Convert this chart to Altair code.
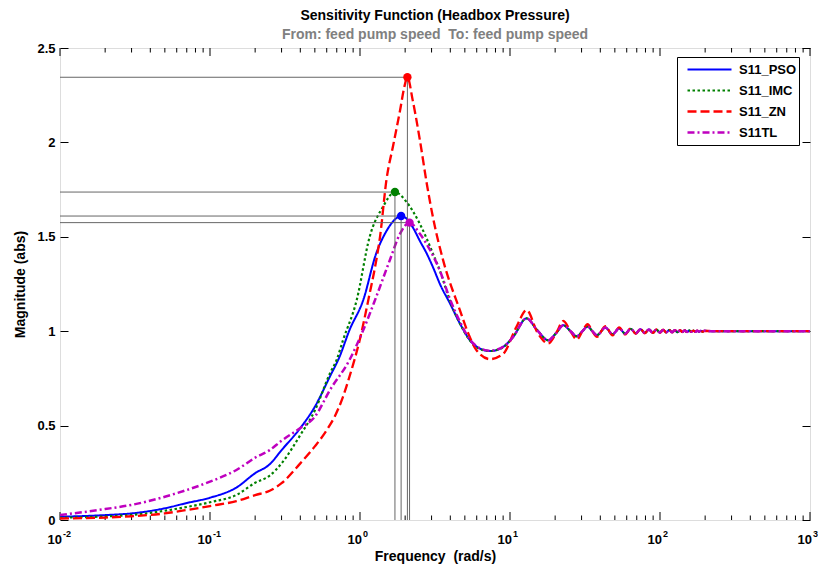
import altair as alt
import pandas as pd

FONT = "Liberation Sans"
W, H = 750, 472
NB = "\u00a0"

SERIES = ["S11_PSO", "S11_IMC", "S11_ZN", "S11TL"]
COLORS = ["#0000FF", "#008000", "#FF0000", "#BF00BF"]
DASHES = [[1, 0], [2.5, 2.5], [9, 4], [7, 3, 2, 3]]
WIDTHS = [2.0, 2.5, 2.5, 2.5]

# ---- low / peak region of each curve ----
pso_freq = [0.01, 0.02, 0.03, 0.05, 0.07, 0.1, 0.15, 0.2, 0.25, 0.3, 0.4, 0.5, 0.63, 0.73, 0.85,
            1.05, 1.28, 1.51, 1.7, 1.88, 2.05, 2.25, 2.5, 2.79, 3.1, 3.41, 3.98, 4.64, 5.41, 6.31, 7.36, 9.0]
pso_mag = [0.017, 0.026, 0.035, 0.062, 0.09, 0.118, 0.172, 0.248, 0.295, 0.37, 0.487, 0.6, 0.76, 0.864, 1.005,
           1.164, 1.41, 1.534, 1.59, 1.61, 1.595, 1.55, 1.48, 1.41, 1.33, 1.25, 1.147, 1.04, 0.952, 0.908, 0.895, 0.917]

imc_freq = [0.01, 0.02, 0.03, 0.05, 0.07, 0.1, 0.15, 0.2, 0.25, 0.3, 0.4, 0.5, 0.63, 0.7, 0.77, 0.95,
            1.16, 1.42, 1.71, 2.04, 2.5, 3.07, 3.41, 3.98, 4.64, 5.41, 6.31, 7.36, 9.0]
imc_mag = [0.012, 0.019, 0.027, 0.049, 0.069, 0.094, 0.133, 0.197, 0.235, 0.3, 0.45, 0.58, 0.776, 0.85, 0.952, 1.164,
           1.5, 1.658, 1.737, 1.685, 1.57, 1.41, 1.32, 1.16, 1.04, 0.95, 0.905, 0.895, 0.915]

zn_freq = [0.01, 0.02, 0.03, 0.05, 0.07, 0.1, 0.15, 0.2, 0.25, 0.3, 0.4, 0.5, 0.6, 0.68, 0.77, 0.84, 1.0,
           1.16, 1.26, 1.36, 1.5, 1.67, 1.85, 1.97, 2.07, 2.25, 2.51, 2.79, 3.07, 3.6, 4.64, 5.27, 5.97, 7.36, 9.0]
zn_mag = [0.008, 0.013, 0.02, 0.035, 0.053, 0.074, 0.10, 0.132, 0.155, 0.195, 0.30, 0.39, 0.476, 0.55, 0.652, 0.745, 0.96,
          1.2, 1.34, 1.5, 1.8, 1.99, 2.17, 2.29, 2.345, 2.22, 2.01, 1.78, 1.60, 1.37, 1.11, 0.988, 0.90, 0.852, 0.88]

tl_freq = [0.01, 0.02, 0.03, 0.05, 0.07, 0.1, 0.15, 0.2, 0.25, 0.3, 0.4, 0.5, 0.63, 0.85, 1.05, 1.28,
           1.58, 1.85, 2.14, 2.5, 2.93, 3.41, 3.98, 4.64, 5.41, 6.31, 7.36, 9.0]
tl_mag = [0.026, 0.058, 0.08, 0.123, 0.159, 0.203, 0.265, 0.33, 0.37, 0.42, 0.487, 0.547, 0.688, 0.847, 1.005, 1.18,
          1.376, 1.517, 1.575, 1.517, 1.43, 1.32, 1.17, 1.05, 0.955, 0.91, 0.897, 0.917]

# ---- high-frequency ripple (shared by PSO, IMC, TL) ----
tail_freq = [10.5, 12.9, 15.2, 18.0, 20.3, 22.7, 25.3, 27.9, 30.4, 32.9, 35.4, 38.0, 43.2, 48.3, 53.5, 58.6,
             63.8, 68.9, 74.1, 79.2, 84.4, 89.5, 94.7, 99.8, 105.0, 110.1, 115.3, 120.4, 125.6, 130.7, 135.9,
             141.0, 146.2, 151.3, 156.5, 161.6, 166.8, 171.9, 177.1, 182.2, 187.4, 192.5, 197.7, 220, 1000]
tail_mag = [0.97, 1.068, 1.005, 0.952, 0.99, 1.032, 1.0, 0.973, 1.0, 1.025, 1.0, 0.979, 1.019, 0.984, 1.015, 0.987,
            1.012, 0.989, 1.010, 0.991, 1.009, 0.992, 1.008, 0.993, 1.007, 0.994, 1.006, 0.994, 1.005, 0.995, 1.005,
            0.996, 1.004, 0.996, 1.004, 0.997, 1.003, 0.997, 1.003, 0.997, 1.002, 0.998, 1.002, 1.0, 1.0]

zn_tail_freq = [11.0, 12.9, 15.3, 18.0, 20.3, 22.7, 25.3, 27.9, 30.4, 32.9, 35.4, 38.0, 43.2, 48.3, 53.5, 58.6,
                63.8, 68.9, 74.1, 79.2, 84.4, 89.5, 94.7, 99.8, 105.0, 110.1, 115.3, 120.4, 125.6, 130.7, 135.9,
                141.0, 146.2, 151.3, 156.5, 161.6, 166.8, 171.9, 177.1, 182.2, 187.4, 192.5, 197.7, 220, 1000]
zn_tail_mag = [1.02, 1.112, 0.99, 0.935, 0.99, 1.054, 1.0, 0.956, 1.0, 1.037, 1.0, 0.97, 1.027, 0.978, 1.02, 0.983,
               1.016, 0.986, 1.013, 0.989, 1.011, 0.991, 1.009, 0.992, 1.008, 0.993, 1.007, 0.994, 1.006, 0.995, 1.005,
               0.996, 1.004, 0.996, 1.004, 0.997, 1.003, 0.997, 1.003, 0.997, 1.002, 0.998, 1.002, 1.0, 1.0]

# ---- peak response markers ----
peak_freq = [1.88, 1.71, 2.07, 2.14]
peak_mag = [1.61, 1.737, 2.345, 1.575]

# ---- axes ----
X_DOMAIN = [0.01, 1000]
Y_DOMAIN = [0, 2.5]
decade_vals = [0.01, 0.1, 1, 10, 100, 1000]
decade_base = ["10", "10", "10", "10", "10", "10"]
decade_exp = ["-2", "-1", "0", "1", "2", "3"]
y_tick_vals = [0, 0.5, 1, 1.5, 2, 2.5]
minor_tick_vals = [m * d for d in decade_vals[:-1] for m in range(2, 10)]
MINOR_PX, MAJOR_PX = 4.5, 8.0

rows = []
heads = {"S11_PSO": (pso_freq, pso_mag), "S11_IMC": (imc_freq, imc_mag),
         "S11_ZN": (zn_freq, zn_mag), "S11TL": (tl_freq, tl_mag)}
for s in SERIES:
    f, m = heads[s]
    tf, tm = (zn_tail_freq, zn_tail_mag) if s == "S11_ZN" else (tail_freq, tail_mag)
    for a, b in zip(list(f) + list(tf), list(m) + list(tm)):
        rows.append({"series": s, "freq": a, "mag": b})
df = pd.DataFrame(rows)

peaks = pd.DataFrame({"series": SERIES, "freq": peak_freq, "mag": peak_mag,
                      "fmin": [X_DOMAIN[0]] * 4, "mzero": [Y_DOMAIN[0]] * 4})
labels_df = pd.DataFrame({"v": decade_vals, "base": decade_base, "exp": decade_exp})

# inward tick marks along the bottom and top frame (length in pixels, converted to y units)
units_per_px = (Y_DOMAIN[1] - Y_DOMAIN[0]) / H
tick_rows = []
for vals, px in ((minor_tick_vals, MINOR_PX), (decade_vals, MAJOR_PX)):
    for v in vals:
        tick_rows.append({"v": v, "y0": Y_DOMAIN[0], "y1": Y_DOMAIN[0] + px * units_per_px})
        tick_rows.append({"v": v, "y0": Y_DOMAIN[1], "y1": Y_DOMAIN[1] - px * units_per_px})
ticks_df = pd.DataFrame(tick_rows)

xs = alt.Scale(type="log", domain=X_DOMAIN, nice=False)
ys = alt.Scale(domain=Y_DOMAIN, nice=False, zero=False)
cscale = alt.Scale(domain=SERIES, range=COLORS)


def tick_axis(orient, offset, values, size):
    return alt.Axis(orient=orient, offset=offset, values=values, labels=False, domain=False,
                    grid=False, title=None, ticks=True, tickSize=size, tickColor="black", tickWidth=1)


ax_x_main = alt.Axis(orient="bottom", labels=False, ticks=False, domain=False, grid=False,
                     title="Frequency" + NB + " (rad/s)", titleFont=FONT, titleFontSize=14,
                     titleFontWeight="bold", titleColor="black", titlePadding=29)
ax_y_main = alt.Axis(orient="left", values=y_tick_vals, format="~g", labelFont=FONT, labelFontSize=13,
                     labelFontWeight="bold", labelColor="black", labelPadding=5, ticks=False,
                     domain=False, grid=False, title="Magnitude (abs)", titleFont=FONT, titleFontSize=14,
                     titleFontWeight="bold", titleColor="black", titlePadding=9)

legend = alt.Legend(title=None, orient="none", legendX=617, legendY=9, direction="vertical",
                    symbolType="stroke", symbolSize=1936, symbolStrokeWidth=1.5, symbolOffset=7,
                    labelFont=FONT, labelFontSize=13, labelFontWeight="bold", labelColor="black",
                    labelOffset=6, strokeColor="black", fillColor="white", padding=2,
                    clipHeight=21, rowPadding=0,
                    labelExpr="datum.label + '\u00a0\u00a0'")

lines = alt.Chart(df).mark_line(clip=True, interpolate="monotone").encode(
    x=alt.X("freq:Q", scale=xs, axis=ax_x_main),
    y=alt.Y("mag:Q", scale=ys, axis=ax_y_main),
    color=alt.Color("series:N", scale=cscale, legend=legend),
    strokeDash=alt.StrokeDash("series:N", scale=alt.Scale(domain=SERIES, range=DASHES), legend=None),
    strokeWidth=alt.StrokeWidth("series:N", scale=alt.Scale(domain=SERIES, range=WIDTHS), legend=None),
    detail="series:N",
)

hrules = alt.Chart(peaks).mark_rule(color="#666666", strokeWidth=1).encode(
    x=alt.X("fmin:Q", scale=xs, axis=None),
    x2="freq:Q",
    y=alt.Y("mag:Q", scale=ys, axis=tick_axis("right", -W, y_tick_vals, 8)),
)
vrules = alt.Chart(peaks).mark_rule(color="#666666", strokeWidth=1).encode(
    x=alt.X("freq:Q", scale=xs, axis=None),
    y=alt.Y("mag:Q", scale=ys, axis=tick_axis("left", -W, y_tick_vals, 8)),
    y2="mzero:Q",
)
points = alt.Chart(peaks).mark_point(filled=True, shape="circle", size=70, opacity=1).encode(
    x=alt.X("freq:Q", scale=xs, axis=None),
    y=alt.Y("mag:Q", scale=ys, axis=None),
    color=alt.Color("series:N", scale=cscale, legend=None),
)
xticks = alt.Chart(ticks_df).mark_rule(color="black", strokeWidth=1).encode(
    x=alt.X("v:Q", scale=xs, axis=None),
    y=alt.Y("y0:Q", scale=ys, axis=None),
    y2="y1:Q",
)

base_lbl = alt.Chart(labels_df).mark_text(font=FONT, fontSize=13, fontWeight="bold", color="black",
                                          align="right", baseline="alphabetic", dx=2).encode(
    x=alt.X("v:Q", scale=xs, axis=None),
    y=alt.value(H + 24),
    text="base:N",
)
exp_lbl = alt.Chart(labels_df).mark_text(font=FONT, fontSize=9, fontWeight="bold", color="black",
                                         align="left", baseline="alphabetic", dx=3).encode(
    x=alt.X("v:Q", scale=xs, axis=None),
    y=alt.value(H + 17),
    text="exp:N",
)

chart = alt.layer(xticks, lines, hrules, vrules, points, base_lbl, exp_lbl).resolve_axis(
    x="independent", y="independent"
).properties(
    width=W, height=H,
    autosize=alt.AutoSizeParams(type="none"),
    padding={"left": 60, "top": 48, "right": 8, "bottom": 49},
    title=alt.TitleParams(
        text="Sensitivity Function (Headbox Pressure)",
        subtitle="From: feed pump speed" + NB + " To: feed pump speed",
        anchor="middle", font=FONT, fontSize=14, fontWeight="bold", color="black",
        subtitleFont=FONT, subtitleFontSize=14, subtitleFontWeight="bold", subtitleColor="#808080",
        subtitlePadding=5, offset=0,
    ),
).configure_view(stroke="black", strokeWidth=1).configure(background="white")

chart.save("out.html", embed_options={"renderer": "svg", "actions": False})
